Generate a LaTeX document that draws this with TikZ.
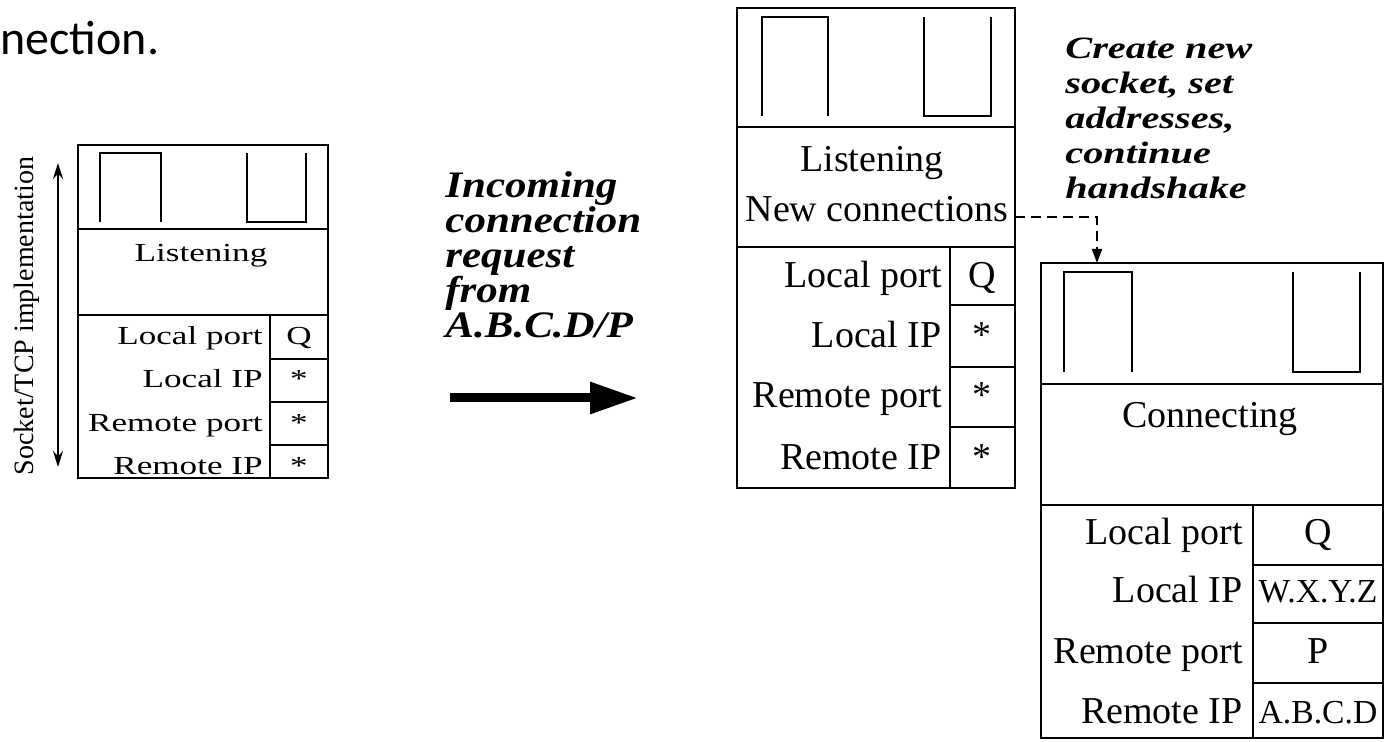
\documentclass[tikz,border=0pt]{standalone}
\usepackage{fontspec}
\setmainfont{Liberation Serif}
\newfontfamily\slidefont{Carlito}
\newfontfamily\wideserif[FakeStretch=1.35]{Liberation Serif}
\newfontfamily\noteserif[FakeStretch=1.15]{Liberation Serif}
\newfontfamily\tagserif[FakeStretch=1.3]{Liberation Serif}
\usetikzlibrary{arrows.meta}

\begin{document}
\begin{tikzpicture}[x=0.5pt, y=-0.5pt,
  sockbox/.style={draw, line width=1.3pt, inner sep=0pt, outer sep=0pt, anchor=north west},
  part/.style={line width=1.3pt},
  buf/.style={line width=1pt},
  field/.style={anchor=base east, inner sep=0pt},
  value/.style={anchor=base, inner sep=0pt},
  oldtext/.style={font=\wideserif\fontsize{13}{15}\selectfont},
  newtext/.style={font=\fontsize{19}{22}\selectfont},
  note/.style={anchor=north west, align=left, inner sep=0pt}
]
\useasboundingbox (0,0) rectangle (1387,742);
\node[anchor=base west, inner sep=0pt, font=\slidefont\fontsize{24}{28}\selectfont] (cut) at (0,55) {nection.};

% listening socket before the request
\node[sockbox, line width=1pt, minimum width=125pt, minimum height=166.5pt] (lsock) at (78,145) {};
\draw[buf] (100,222) |- (161,153) -- (161,222);
\draw[buf] (247,153) |- (306,222) -- (306,153);
\draw[line width=1pt] (78,229) -- (328,229) (78,315) -- (328,315) (270,315) -- (270,478);
\foreach \y in {359,402,445} \draw[line width=1pt] (270,\y) -- (328,\y);
\node[oldtext, value] (lstate) at (201,262) {Listening};
\foreach \name/\val/\y [count=\i] in {Local port/Q/345, Local IP/*/388, Remote port/*/432, Remote IP/*/475} {
  \node[oldtext, field] (lfield\i) at (263,\y) {\name};
  \node[oldtext, value] (lval\i) at (299,\y) {\val};
}
\node[rotate=90, font=\fontsize{14}{16}\selectfont] (impl) at (27,316) {Socket/TCP implementation};
\coordinate (impltop) at (58,163);
\coordinate (implbot) at (58,467);
\draw[line width=1pt, {Stealth[length=8pt,width=5pt]}-{Stealth[length=8pt,width=5pt]}] (impltop) -- (implbot);

% incoming request
\node[note, font=\noteserif\bfseries\itshape\fontsize{18.7}{17.5}\selectfont] (req) at (445,171)
  {Incoming\\connection\\request\\from\\A.B.C.D/P};
\coordinate (reqfrom) at (450,398);
\coordinate (reqto) at (638,398);
\draw[line width=4.5pt, -{Triangle[length=24pt,width=15pt]}] (reqfrom) -- (reqto);

% listening socket after the request
\node[sockbox, minimum width=139pt, minimum height=240pt] (msock) at (737,8) {};
\draw[buf] (762,116) |- (828,17) -- (828,116);
\draw[buf] (924,17) |- (991,116) -- (991,17);
\draw[part] (737,127) -- (1015,127) (737,247) -- (1015,247) (950,247) -- (950,488);
\foreach \y in {305,367,427} \draw[part] (950,\y) -- (1015,\y);
\node[newtext, value] (mstate) at (872,172) {Listening};
\node[newtext, value] (newconn) at (877,222) {New connections};
\foreach \name/\val/\y [count=\i] in {Local port/Q/288, Local IP/*/348, Remote port/*/408, Remote IP/*/470} {
  \node[newtext, field] (mfield\i) at (942,\y) {\name};
  \node[newtext, value] (mval\i) at (982,\y) {\val};
}

% new connecting socket
\node[sockbox, minimum width=171pt, minimum height=237.5pt] (csock) at (1041,263) {};
\draw[buf] (1064,372) |- (1132,272) -- (1132,372);
\draw[buf] (1293,272) |- (1360,372) -- (1360,272);
\draw[part] (1041,384) -- (1383,384) (1041,505) -- (1383,505) (1253,505) -- (1253,738);
\foreach \y in {565,623,683} \draw[part] (1253,\y) -- (1383,\y);
\node[newtext, value] (cstate) at (1210,428) {Connecting};
\foreach \name/\val/\y [count=\i] in {Local port/Q/545, Local IP/W.X.Y.Z/603, Remote port/P/663, Remote IP/A.B.C.D/723} {
  \node[newtext, field] (cfield\i) at (1243,\y) {\name};
}
\node[newtext, value] (cval1) at (1318,545) {Q};
\node[value, font=\fontsize{16.8}{19}\selectfont] (cval2) at (1318,603) {W.X.Y.Z};
\node[newtext, value] (cval3) at (1318,663) {P};
\node[value, font=\fontsize{16.8}{19}\selectfont] (cval4) at (1318,723) {A.B.C.D};

\node[note, font=\tagserif\bfseries\itshape\fontsize{15.5}{17.5}\selectfont] (spawn) at (1065,38)
  {Create new\\socket, set\\addresses,\\continue\\handshake};
\draw[line width=1pt, dash pattern=on 5pt off 3pt, -{Triangle[length=7pt,width=5pt]}]
  (msock.east |- newconn.mid) -| ([xshift=28pt]csock.north west);
\end{tikzpicture}
\end{document}
